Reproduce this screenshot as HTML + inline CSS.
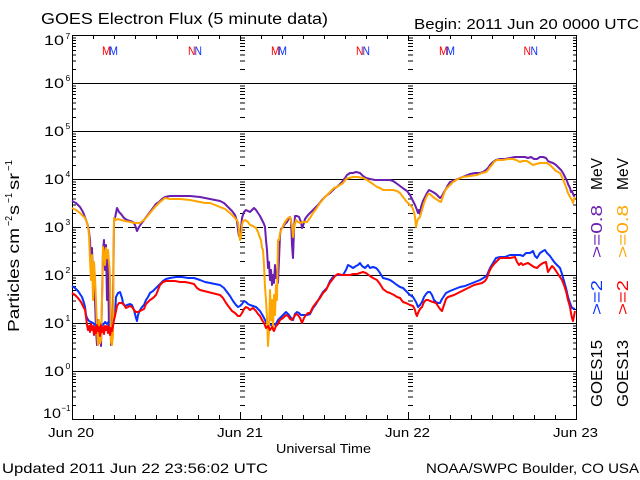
<!DOCTYPE html>
<html><head><meta charset="utf-8"><style>
html,body{margin:0;padding:0;background:#fff;}
svg{display:block;}
text{font-family:"Liberation Sans",sans-serif;fill:#000;}
</style></head><body>
<svg width="640" height="480" viewBox="0 0 640 480" xmlns="http://www.w3.org/2000/svg">
<defs>
<g id="d" stroke="#000" stroke-width="1" shape-rendering="crispEdges"><path d="M0 -14h4M0 -22.5h4M0 -28.5h4M0 -33h4M0 -37h4M0 -40h4M0 -43h4M0 -45.5h4"/></g>
<g id="e" stroke="#000" stroke-width="1" shape-rendering="crispEdges"><path d="M0 -14h-4M0 -22.5h-4M0 -28.5h-4M0 -33h-4M0 -37h-4M0 -40h-4M0 -43h-4M0 -45.5h-4"/></g>
<g id="f" stroke="#000" stroke-width="1" shape-rendering="crispEdges"><path d="M0 -14h5M0 -22.5h5M0 -28.5h5M0 -33h5M0 -37h5M0 -40h5M0 -43h5M0 -45.5h5"/></g>
</defs>
<rect width="640" height="480" fill="#fff"/>

<!-- grid lines -->
<g stroke="#000" stroke-width="1" shape-rendering="crispEdges" fill="none">
<path d="M72 83.5H576M72 131.5H576M72 179.5H576M72 275.5H576M72 323.5H576M72 371.5H576"/>
<path d="M72 227.5H576" stroke-dasharray="9,5"/>
<rect x="72.5" y="35.5" width="504" height="384"/>
<!-- x ticks -->
<path d="M93 35v4M114 35v4M135 35v4M156 35v4M177 35v4M198 35v4M219 35v4M261 35v4M282 35v4M303 35v4M324 35v4M345 35v4M366 35v4M387 35v4M429 35v4M450 35v4M471 35v4M492 35v4M513 35v4M534 35v4M555 35v4" transform="translate(0.5,0)"/>
<path d="M93 419v-4M114 419v-4M135 419v-4M156 419v-4M177 419v-4M198 419v-4M219 419v-4M261 419v-4M282 419v-4M303 419v-4M324 419v-4M345 419v-4M366 419v-4M387 419v-4M429 419v-4M450 419v-4M471 419v-4M492 419v-4M513 419v-4M534 419v-4M555 419v-4" transform="translate(0.5,0)"/>
<path d="M240.5 35v6M408.5 35v6M240.5 419v-7M408.5 419v-7"/>
</g>
<!-- minor y ticks -->
<g>
<use href="#d" x="72" y="83.5"/><use href="#d" x="72" y="131.5"/><use href="#d" x="72" y="179.5"/><use href="#d" x="72" y="227.5"/><use href="#d" x="72" y="275.5"/><use href="#d" x="72" y="323.5"/><use href="#d" x="72" y="371.5"/><use href="#d" x="72" y="419.5"/>
<use href="#e" x="577" y="83.5"/><use href="#e" x="577" y="131.5"/><use href="#e" x="577" y="179.5"/><use href="#e" x="577" y="227.5"/><use href="#e" x="577" y="275.5"/><use href="#e" x="577" y="323.5"/><use href="#e" x="577" y="371.5"/><use href="#e" x="577" y="419.5"/>
<use href="#f" x="240" y="83.5"/><use href="#f" x="240" y="131.5"/><use href="#f" x="240" y="179.5"/><use href="#f" x="240" y="227.5"/><use href="#f" x="240" y="275.5"/><use href="#f" x="240" y="323.5"/><use href="#f" x="240" y="371.5"/><use href="#f" x="240" y="419.5"/>
<use href="#f" x="408" y="83.5"/><use href="#f" x="408" y="131.5"/><use href="#f" x="408" y="179.5"/><use href="#f" x="408" y="227.5"/><use href="#f" x="408" y="275.5"/><use href="#f" x="408" y="323.5"/><use href="#f" x="408" y="371.5"/><use href="#f" x="408" y="419.5"/>
</g>

<!-- data -->
<g fill="none" stroke-width="2" stroke-linejoin="round">
<polyline stroke="#6a1fb0" points="72,201 76,203 80,207 83,212 86,220 88,226 89,232 90,240 91,262 92,248 93,280 94,265 95,300 96,330 97,345 98,320 99,343 100,330 101,346 102,300 103,250 104,240 105,270 106,245 107,300 108,260 109,330 110,300 111,345 112,340 113,300 114,222 115,218 117,208 119,212 121,214 124,218 127,220 130,221 133,222 135,225 137,231 139,227 141,224 144,220 147,216 150,212 153,208 156,204 159,202 162,199 165,197 170,196 180,196 190,196 200,197 210,199 215,200 220,201 224,203 228,207 232,211 235,215 237,221 238,230 239,236 240,236 241,228 242,218 244,212 246,210 248,211 250,212 252,210 254,208 256,210 258,213 260,216 262,220 264,224 265,227 266,240 267,250 268,268 269,262 270,280 271,270 272,285 273,275 274,283 275,265 276,278 277,272 278,283 279,260 280,235 281,229 283,227 285,224 287,222 289,218 290,217 291,220 292,245 293,258 294,230 295,216 297,216 299,217 301,222 302,228 303,226 305,219 308,215 310,213 314,209 318,205 322,200 326,196 330,193 334,189 338,186 342,182 345,178 347,175 350,173 353,173 356,172 360,173 363,176 366,178 370,179 375,180 380,180 385,180 390,180 393,181 396,183 400,186 404,189 407,191 410,195 413,201 415,205 417,210 418,213 419,210 420,214 421,207 423,201 425,197 427,193 429,190 431,191 433,192 436,194 438,196 440,198 442,196 444,192 446,189 448,185 450,182 455,180 460,178 465,176 470,174 475,173 480,173 483,172 486,170 488,168 490,165 493,162 496,160 500,159 505,159 510,158 515,157 520,157 525,157 528,158 531,157 534,159 537,159 540,157 543,157 546,158 548,161 550,162 553,163 556,165 559,168 561,170 563,173 565,177 567,181 568,184 570,188 571,192 572,191 573,194 574,196 575,195"/>
<polyline stroke="#0a32ff" points="72,286 75,288 78,291 80,294 82,297 84,303 85,307 86,315 87,318 89,321 91,322 93,323 95,325 97,321 99,326 101,323 103,325 105,322 107,324 109,321 111,324 113,322 115,315 116,297 118,293 120,292 122,298 123,303 125,306 127,305 130,304 132,305 134,310 136,318 137,321 138,315 140,310 142,307 144,305 146,300 148,297 150,293 153,291 156,288 160,284 163,281 166,279 170,278 176,277 182,277 188,278 194,278 200,280 205,282 210,283 215,284 220,285 224,288 227,292 230,296 233,301 236,305 238,307 240,306 242,304 244,301 246,302 248,304 250,305 253,306 256,307 258,309 260,311 263,316 266,322 268,324 270,325 273,325 276,324 278,320 280,318 283,315 286,312 289,315 291,318 293,320 295,314 297,312 299,313 301,315 304,315 307,315 310,314 313,308 316,304 320,297 323,292 327,288 330,281 333,277 337,275 340,275 343,275 346,270 348,265 350,266 353,268 356,266 358,265 360,263 362,266 365,268 368,265 370,268 373,267 376,268 378,270 380,273 383,278 387,279 390,280 393,282 397,285 400,287 403,288 406,291 410,295 413,297 416,302 418,307 420,305 422,302 424,297 426,294 428,292 430,292 432,295 434,300 436,302 438,303 440,303 442,299 444,296 446,293 450,291 455,289 460,287 465,286 470,284 475,282 480,280 485,277 487,275 490,268 493,263 496,258 500,257 505,257 510,255 515,255 520,255 523,256 526,253 530,253 533,251 535,256 537,258 540,253 543,251 545,250 547,253 550,256 552,259 555,263 558,266 560,268 562,274 564,281 566,288 568,297 570,303 572,308 575,309"/>
<polyline stroke="#ffa500" points="72,208 76,210 80,213 83,216 85,218 87,223 88,227 89,235 90,260 91,280 92,255 93,300 94,262 95,278 96,300 97,330 98,345 99,320 100,343 101,340 102,300 103,247 104,252 105,265 106,248 107,258 108,250 109,262 110,275 111,342 112,345 113,335 114,218 116,220 118,219 121,220 125,221 130,222 135,223 140,223 145,219 150,213 155,207 160,202 165,198 170,199 180,199 190,200 200,202 205,203 210,203 215,205 220,207 225,209 230,213 235,218 238,222 239,232 240,240 241,237 242,225 243,221 245,220 248,222 250,225 253,226 256,228 258,232 260,238 261,240 262,248 263,250 264,265 265,287 266,300 267,318 268,346 269,330 270,290 271,320 272,300 273,330 274,295 275,315 276,285 277,300 278,240 279,240 280,233 282,228 285,222 288,218 290,217 292,225 293,237 294,228 296,220 298,222 300,223 303,222 307,222 310,218 313,213 316,209 320,203 325,197 330,192 334,188 337,187 340,185 343,183 346,179 349,178 353,177 358,177 363,178 367,180 370,182 373,184 377,187 380,188 383,190 388,190 393,190 397,191 400,193 403,197 406,201 409,204 412,207 414,212 415,217 416,227 417,222 418,219 420,217 422,210 424,203 426,198 428,194 430,194 433,197 436,199 439,201 441,202 443,196 445,191 447,188 450,185 453,182 458,179 463,177 470,176 477,175 482,173 486,172 488,170 490,167 492,165 494,162 497,160 503,160 508,159 513,159 516,160 520,162 523,161 527,161 530,163 533,165 536,164 540,163 543,163 547,163 550,165 553,168 556,171 560,173 562,177 564,182 566,187 568,193 570,197 572,200 573,203 574,199 575,197"/>
<polyline stroke="#ff0000" points="72,293 75,295 78,298 81,302 83,306 85,310 86,317 87,325 88,330 89,326 90,332 91,324 92,330 93,326 94,335 95,327 96,333 97,325 98,331 99,327 100,336 101,325 102,332 103,327 104,334 105,326 106,330 107,326 108,333 109,327 110,335 111,328 112,331 113,326 114,320 115,316 117,306 119,303 122,303 124,305 126,308 128,307 130,306 132,307 134,310 136,312 138,312 140,311 142,310 144,309 146,304 148,302 150,300 153,298 156,295 158,290 160,285 163,282 166,281 170,281 175,281 180,282 185,282 190,283 194,284 197,288 200,290 204,291 208,292 212,293 216,294 220,295 223,298 226,303 229,307 232,311 235,313 238,316 240,316 242,313 244,309 246,307 248,308 250,310 253,308 256,311 258,314 260,316 262,320 264,323 266,328 268,326 270,330 272,327 274,331 276,326 278,324 280,320 283,318 286,315 288,316 290,319 292,320 294,317 296,314 298,315 300,318 302,323 304,318 306,315 308,313 310,313 313,307 316,303 320,298 323,293 326,290 329,284 332,280 335,276 338,274 342,275 346,275 350,275 353,274 357,274 360,273 363,272 366,273 370,276 373,278 377,280 380,284 383,289 387,292 390,293 394,295 397,297 400,298 403,302 406,303 410,305 413,306 415,310 416,314 417,316 418,313 420,309 422,307 424,302 426,300 428,300 430,301 433,302 436,303 438,306 440,309 442,311 444,305 446,299 448,297 451,296 454,295 458,293 462,291 466,289 470,287 474,285 478,284 482,283 485,281 487,278 489,272 491,268 494,264 497,261 500,258 505,258 510,258 515,257 517,262 519,265 521,263 523,265 525,264 528,263 531,265 534,267 537,268 540,265 543,263 546,262 548,272 550,269 552,266 554,268 556,271 558,274 560,277 562,280 564,285 566,291 568,300 570,307 571,313 572,318 573,321 574,316 575,311"/>
</g>

<!-- M / N markers -->
<g font-size="12">
<text x="102" y="55" fill="#ff0000" style="fill:#ff0000" textLength="9" lengthAdjust="spacingAndGlyphs">M</text>
<text x="109" y="55" style="fill:#0a32ff" textLength="9" lengthAdjust="spacingAndGlyphs">M</text>
<text x="188" y="55" style="fill:#ff0000" textLength="7.5" lengthAdjust="spacingAndGlyphs">N</text>
<text x="194.5" y="55" style="fill:#0a32ff" textLength="7.5" lengthAdjust="spacingAndGlyphs">N</text>
<text x="271" y="55" style="fill:#ff0000" textLength="9" lengthAdjust="spacingAndGlyphs">M</text>
<text x="278" y="55" style="fill:#0a32ff" textLength="9" lengthAdjust="spacingAndGlyphs">M</text>
<text x="356" y="55" style="fill:#ff0000" textLength="7.5" lengthAdjust="spacingAndGlyphs">N</text>
<text x="362.5" y="55" style="fill:#0a32ff" textLength="7.5" lengthAdjust="spacingAndGlyphs">N</text>
<text x="439" y="55" style="fill:#ff0000" textLength="9" lengthAdjust="spacingAndGlyphs">M</text>
<text x="446" y="55" style="fill:#0a32ff" textLength="9" lengthAdjust="spacingAndGlyphs">M</text>
<text x="523.5" y="55" style="fill:#ff0000" textLength="7.5" lengthAdjust="spacingAndGlyphs">N</text>
<text x="530.5" y="55" style="fill:#0a32ff" textLength="7.5" lengthAdjust="spacingAndGlyphs">N</text>
</g>

<!-- titles -->
<text x="41" y="24" font-size="15.5" textLength="287" lengthAdjust="spacingAndGlyphs">GOES Electron Flux (5 minute data)</text>
<text x="414" y="29" font-size="15" textLength="225" lengthAdjust="spacingAndGlyphs">Begin: 2011 Jun 20 0000 UTC</text>

<!-- y labels -->
<g font-size="14">
<text x="44" y="45" textLength="20" lengthAdjust="spacingAndGlyphs">10</text>
<text x="44" y="88" textLength="20" lengthAdjust="spacingAndGlyphs">10</text>
<text x="44" y="136" textLength="20" lengthAdjust="spacingAndGlyphs">10</text>
<text x="44" y="184" textLength="20" lengthAdjust="spacingAndGlyphs">10</text>
<text x="44" y="232" textLength="20" lengthAdjust="spacingAndGlyphs">10</text>
<text x="44" y="280" textLength="20" lengthAdjust="spacingAndGlyphs">10</text>
<text x="44" y="328" textLength="20" lengthAdjust="spacingAndGlyphs">10</text>
<text x="44" y="376" textLength="20" lengthAdjust="spacingAndGlyphs">10</text>
<text x="43" y="418" textLength="18" lengthAdjust="spacingAndGlyphs">10</text>
</g>
<g font-size="8.5">
<text x="65.5" y="39">7</text>
<text x="65.5" y="81">6</text>
<text x="65.5" y="129">5</text>
<text x="65.5" y="177">4</text>
<text x="65.5" y="225">3</text>
<text x="65.5" y="273">2</text>
<text x="65.5" y="321">1</text>
<text x="65.5" y="369">0</text>
<text x="61.5" y="411" textLength="9" lengthAdjust="spacingAndGlyphs">−1</text>
</g>

<!-- y axis title (rotated) -->
<g transform="translate(19,332) rotate(-90)">
<text x="0" y="0" font-size="16" textLength="104" lengthAdjust="spacingAndGlyphs">Particles cm</text>
<text x="106" y="-7" font-size="10" textLength="10" lengthAdjust="spacingAndGlyphs">−2</text>
<text x="117" y="0" font-size="16" textLength="10" lengthAdjust="spacingAndGlyphs">s</text>
<text x="129" y="-7" font-size="10" textLength="10" lengthAdjust="spacingAndGlyphs">−1</text>
<text x="142" y="0" font-size="16" textLength="17" lengthAdjust="spacingAndGlyphs">sr</text>
<text x="161" y="-7" font-size="10" textLength="11" lengthAdjust="spacingAndGlyphs">−1</text>
</g>

<!-- right legends (rotated) -->
<g font-size="16">
<text transform="translate(602,407) rotate(-90)" textLength="67" lengthAdjust="spacingAndGlyphs">GOES15</text>
<text transform="translate(602,315) rotate(-90)" style="fill:#0a32ff" textLength="35" lengthAdjust="spacingAndGlyphs">&gt;=2</text>
<text transform="translate(602,258) rotate(-90)" style="fill:#6a1fb0" textLength="53" lengthAdjust="spacingAndGlyphs">&gt;=0.8</text>
<text transform="translate(602,190) rotate(-90)" textLength="32" lengthAdjust="spacingAndGlyphs">MeV</text>
<text transform="translate(628,407) rotate(-90)" textLength="67" lengthAdjust="spacingAndGlyphs">GOES13</text>
<text transform="translate(628,315) rotate(-90)" style="fill:#ff0000" textLength="35" lengthAdjust="spacingAndGlyphs">&gt;=2</text>
<text transform="translate(628,258) rotate(-90)" style="fill:#ffa500" textLength="53" lengthAdjust="spacingAndGlyphs">&gt;=0.8</text>
<text transform="translate(628,190) rotate(-90)" textLength="32" lengthAdjust="spacingAndGlyphs">MeV</text>
</g>

<!-- x labels -->
<g font-size="13">
<text x="48" y="437" textLength="46" lengthAdjust="spacingAndGlyphs">Jun 20</text>
<text x="217" y="437" textLength="46" lengthAdjust="spacingAndGlyphs">Jun 21</text>
<text x="385" y="437" textLength="45" lengthAdjust="spacingAndGlyphs">Jun 22</text>
<text x="553" y="437" textLength="45" lengthAdjust="spacingAndGlyphs">Jun 23</text>
<text x="276" y="453" textLength="95" lengthAdjust="spacingAndGlyphs">Universal Time</text>
</g>
<g font-size="14">
<text x="2" y="473" textLength="266" lengthAdjust="spacingAndGlyphs">Updated 2011 Jun 22 23:56:02 UTC</text>
<text x="426" y="473" textLength="213" lengthAdjust="spacingAndGlyphs">NOAA/SWPC Boulder, CO USA</text>
</g>
</svg>
</body></html>
